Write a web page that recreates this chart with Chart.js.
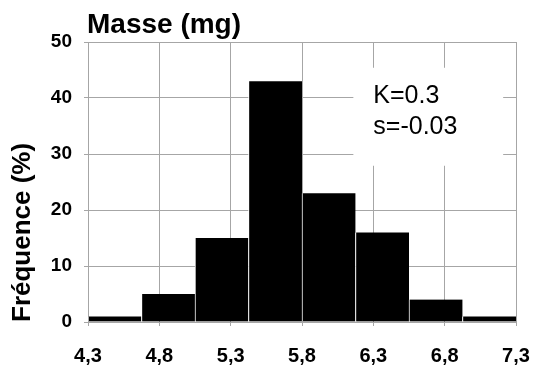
<!DOCTYPE html>
<html>
<head>
<meta charset="utf-8">
<script src="https://cdn.jsdelivr.net/npm/chart.js@4.4.0/dist/chart.umd.min.js"></script>
<style>
html, body { margin: 0; padding: 0; background: #fff; }
#wrap { width: 539px; height: 369px; position: relative; }
</style>
</head>
<body>
<div id="wrap"><canvas id="histChart"></canvas></div>
<script>
// Histogram classes (lower bound of each class, width of a class)
const binStarts = [4.3, 4.675, 5.05, 5.425, 5.8, 6.175, 6.55, 6.925];
const binWidth = 0.375;
// Frequency in % for each class
const frequencies = [1, 5, 15, 43, 23, 16, 4, 1];

const xTickValues = [4.3, 4.8, 5.3, 5.8, 6.3, 6.8, 7.3];
const yTickValues = [0, 10, 20, 30, 40, 50];

const chartTitle = 'Masse (mg)';
const yAxisTitle = 'Fréquence (%)';
const statsLines = ['K=0.3', 's=-0.03'];

const FONT = 'Arial, "Liberation Sans", sans-serif';
const GRID = '#a6a6a6';

// title in the top left + white box with the statistics
const extraText = {
    id: 'extraText',
    beforeDatasetsDraw(chart) {
        const { ctx, chartArea, scales } = chart;
        const x = scales.x, y = scales.y;
        ctx.save();
        // white box hides the grid behind the stats
        const bx1 = x.getPixelForValue(6.16), bx2 = x.getPixelForValue(7.21);
        const by1 = y.getPixelForValue(45.4), by2 = y.getPixelForValue(27.9);
        ctx.fillStyle = '#fff';
        ctx.fillRect(bx1, by1, bx2 - bx1, by2 - by1);

        ctx.fillStyle = '#000';
        ctx.textAlign = 'left';
        ctx.textBaseline = 'alphabetic';
        ctx.font = '25px ' + FONT;
        ctx.fillText(statsLines[0], x.getPixelForValue(6.3), y.getPixelForValue(39.1));
        ctx.fillText(statsLines[1], x.getPixelForValue(6.3), y.getPixelForValue(33.6));

        ctx.font = 'bold 28px ' + FONT;
        ctx.fillText(chartTitle, chartArea.left - 1, 33);
        ctx.restore();
    }
};

const ctx = document.getElementById('histChart');

new Chart(ctx, {
    type: 'bar',
    data: {
        datasets: [{
            data: binStarts.map((s, i) => ({ x: s + binWidth / 2, y: frequencies[i] })),
            backgroundColor: '#000',
            borderColor: '#fff',
            borderWidth: { left: 1, right: 0, top: 0, bottom: 0 },
            borderSkipped: false,
            barPercentage: 1,
            categoryPercentage: 1,
        }]
    },
    options: {
        responsive: true,
        maintainAspectRatio: false,
        animation: false,
        layout: {
            padding: { top: 42, right: 23, bottom: 0, left: 0 }
        },
        plugins: {
            legend: { display: false },
            tooltip: { enabled: false },
        },
        scales: {
            x: {
                type: 'linear',
                min: xTickValues[0],
                max: xTickValues[xTickValues.length - 1],
                offset: false,
                afterBuildTicks: (scale) => {
                    scale.ticks = xTickValues.map(v => ({ value: v }));
                },
                afterFit: (scale) => {
                    scale.height = 47;
                    scale.paddingLeft = 0;
                    scale.paddingRight = 0;
                },
                grid: { color: GRID, offset: false, tickLength: 4 },
                border: { color: GRID },
                ticks: {
                    color: '#000',
                    font: { family: FONT, size: 20, weight: 'bold' },
                    padding: 18,
                    maxRotation: 0,
                    autoSkip: false,
                    callback: (v) => Number(v).toFixed(1).replace('.', ','),
                },
            },
            y: {
                min: yTickValues[0],
                max: yTickValues[yTickValues.length - 1],
                afterBuildTicks: (scale) => {
                    scale.ticks = yTickValues.map(v => ({ value: v }));
                },
                afterFit: (scale) => { scale.width = 88; },
                grid: { color: GRID, tickLength: 4 },
                border: { color: GRID },
                ticks: {
                    color: '#000',
                    font: { family: FONT, size: 19, weight: 'bold' },
                    padding: 12,
                },
                title: {
                    display: true,
                    text: yAxisTitle,
                    align: 'start',
                    color: '#000',
                    font: { family: FONT, size: 26, weight: 'bold' },
                    padding: { top: 7, bottom: 0 },
                },
            },
        },
    },
    plugins: [extraText],
});
</script>
</body>
</html>
